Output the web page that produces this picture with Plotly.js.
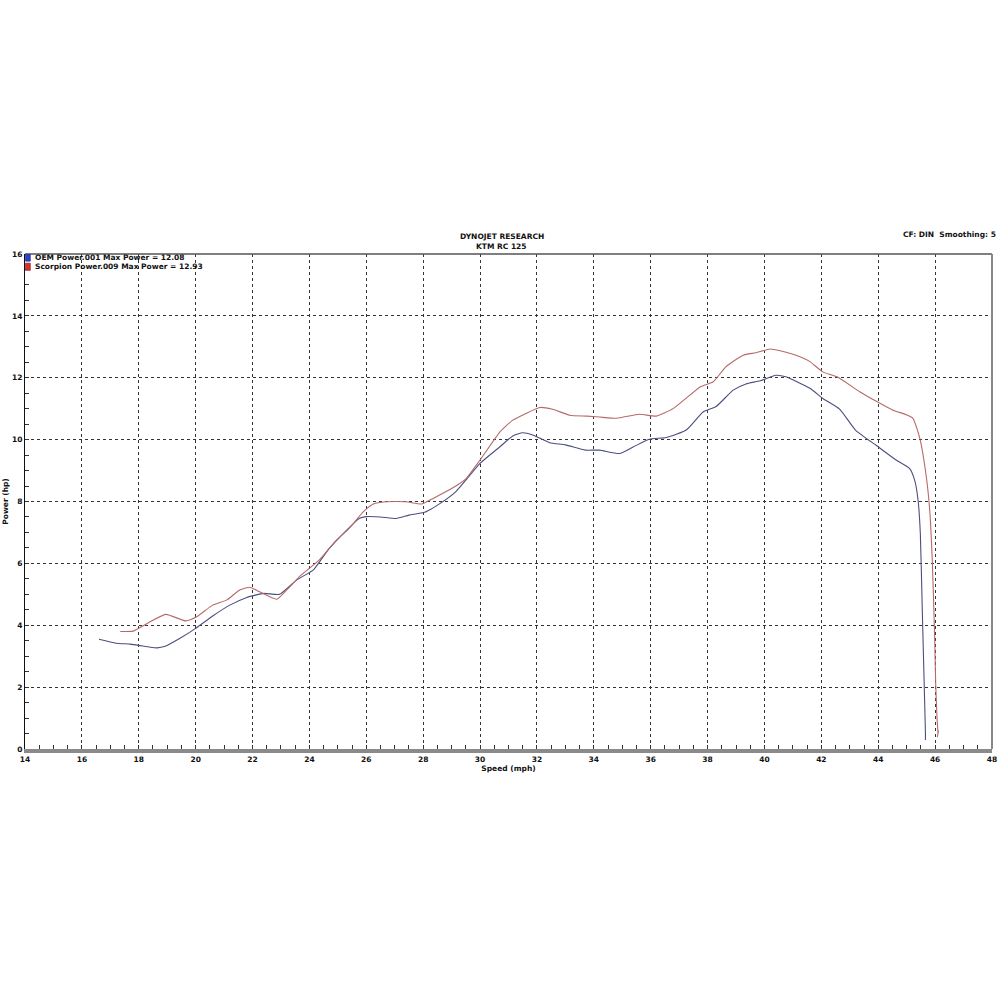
<!DOCTYPE html>
<html>
<head>
<meta charset="utf-8">
<script src="https://cdn.plot.ly/plotly-3.0.1.min.js"></script>
<style>html,body{margin:0;padding:0;background:#fff;}#chart{width:1000px;height:1000px;}</style>
</head>
<body>
<div id="chart"></div>
<script>
// OEM Power.001 (speed mph, power hp)
const oemSpeed = [16.6,17.2,17.7,18.0,18.4,18.65,18.9,19.45,20.0,20.6,21.2,21.8,22.4,22.95,23.55,24.15,24.65,25.2,25.75,26.0,26.5,27.05,27.5,28.05,28.6,29.15,30.0,30.7,31.15,31.5,31.85,32.45,33.0,33.7,34.2,34.9,35.4,35.95,36.55,37.25,37.85,38.3,38.9,39.35,39.85,40.4,40.75,41.6,42.05,42.65,43.2,43.95,44.6,45.1,45.28,45.4,45.48,45.54,45.6,45.66,45.66];
const oemPower = [3.55,3.42,3.39,3.35,3.29,3.27,3.31,3.58,3.9,4.3,4.65,4.9,5.03,5.0,5.46,5.8,6.43,6.97,7.45,7.51,7.5,7.45,7.56,7.65,7.94,8.32,9.23,9.77,10.12,10.22,10.15,9.9,9.83,9.66,9.66,9.55,9.77,10.01,10.07,10.31,10.9,11.07,11.6,11.8,11.9,12.08,12.03,11.66,11.33,10.98,10.31,9.8,9.36,9.07,8.69,8.05,6.97,4.82,2.66,0.5,0.29];
// Scorpion Power.009
const scoSpeed = [17.35,17.8,18.3,18.95,19.65,20.05,20.6,21.1,21.55,21.9,22.25,22.85,23.2,23.65,24.35,24.65,24.95,25.4,25.9,26.25,26.7,27.4,27.95,28.35,29.15,29.5,30.0,30.7,31.15,31.6,32.1,32.55,33.15,33.75,34.2,34.8,35.6,36.2,36.8,37.75,38.2,38.65,39.25,39.7,40.2,40.55,41.25,41.6,42.05,42.55,43.35,43.95,44.5,45.0,45.22,45.46,45.69,45.81,45.9,45.98,46.02,46.07,46.1,46.08,46.12];
const scoPower = [3.8,3.81,4.06,4.35,4.14,4.28,4.65,4.82,5.14,5.23,5.08,4.84,5.14,5.57,6.11,6.43,6.75,7.13,7.67,7.92,7.99,7.99,7.92,8.1,8.5,8.73,9.34,10.25,10.63,10.84,11.04,10.98,10.79,10.76,10.73,10.69,10.82,10.76,11.01,11.71,11.87,12.36,12.73,12.81,12.93,12.87,12.68,12.52,12.19,12.03,11.55,11.23,10.96,10.8,10.69,10.05,8.8,7.72,6.11,3.74,2.12,0.94,0.51,0.4,0.6];

const seriesNames = ["OEM Power.001 Max Power = 12.08", "Scorpion Power.009 Max Power = 12.93"];
const titleLines = ["DYNOJET RESEARCH", "KTM RC 125"];
const cornerText = "CF: DIN  Smoothing: 5";
const xTitle = "Speed (mph)";
const yTitle = "Power (hp)";

const F = {family: "DejaVu Sans, Verdana, sans-serif", size: 7.5, color: "#111", weight: "bold"};

const traces = [
  {x: oemSpeed, y: oemPower, mode: "lines", name: seriesNames[0], line: {color: "#4b4f7f", width: 1.1, shape: "spline", smoothing: 0.5}, showlegend: false},
  {x: scoSpeed, y: scoPower, mode: "lines", name: seriesNames[1], line: {color: "#b56a68", width: 1.1, shape: "spline", smoothing: 0.5}, showlegend: false}
];

const layout = {
  width: 1000, height: 1000,
  margin: {l: 25, r: 8, t: 254, b: 251, pad: 0},
  paper_bgcolor: "#fff", plot_bgcolor: "#fff",
  showlegend: false,
  xaxis: {
    range: [14, 48], dtick: 2, tick0: 14,
    showgrid: true, gridcolor: "#333", griddash: "dot", gridwidth: 1,
    zeroline: false,
    showline: true, linecolor: "#8a8a8a", linewidth: 4,
    ticks: "inside", ticklen: 4, tickcolor: "#333",
    minor: {dtick: 0.5, ticks: "inside", ticklen: 4, tickcolor: "#333", showgrid: false},
    tickfont: F,
    title: {text: xTitle, font: F, standoff: 0}
  },
  yaxis: {
    range: [0, 16], dtick: 2, tick0: 0,
    showgrid: true, gridcolor: "#333", griddash: "dot", gridwidth: 1,
    zeroline: false,
    showline: true, linecolor: "#111", linewidth: 1,
    ticks: "inside", ticklen: 4, tickcolor: "#333",
    minor: {dtick: 0.5, ticks: "inside", ticklen: 4, tickcolor: "#333", showgrid: false},
    tickfont: F,
    title: {text: yTitle, font: F, standoff: 2}
  },
  shapes: [
    {type: "line", xref: "paper", yref: "paper", x0: 0, x1: 1, y0: 1, y1: 1, line: {color: "#555", width: 1.5}},
    {type: "line", xref: "paper", yref: "paper", x0: 1, x1: 1, y0: 0, y1: 1, line: {color: "#888", width: 2}},
    {type: "rect", xref: "paper", yref: "paper", x0: 0.0005, x1: 0.0055, y0: 0.9855, y1: 0.999, fillcolor: "#2a40d0", line: {color: "#1a2480", width: 0.6}},
    {type: "rect", xref: "paper", yref: "paper", x0: 0.0005, x1: 0.0055, y0: 0.967, y1: 0.9815, fillcolor: "#d43030", line: {color: "#801a1a", width: 0.6}}
  ],
  annotations: [
    {xref: "paper", yref: "paper", x: 0.008, y: 0.9925, xanchor: "left", yanchor: "middle", text: seriesNames[0], showarrow: false, font: F},
    {xref: "paper", yref: "paper", x: 0.008, y: 0.9745, xanchor: "left", yanchor: "middle", text: seriesNames[1], showarrow: false, font: F},
    {xref: "paper", yref: "paper", x: 0.493, y: 1.0, yshift: 18, xanchor: "center", yanchor: "middle", text: titleLines[0], showarrow: false, font: F},
    {xref: "paper", yref: "paper", x: 0.493, y: 1.0, yshift: 8, xanchor: "center", yanchor: "middle", text: titleLines[1], showarrow: false, font: F},
    {xref: "paper", yref: "paper", x: 1.0, y: 1.0, xshift: 6, yshift: 20, xanchor: "right", yanchor: "middle", text: cornerText, showarrow: false, font: F}
  ]
};

Plotly.newPlot("chart", traces, layout, {displayModeBar: false, staticPlot: true});
</script>
</body>
</html>
